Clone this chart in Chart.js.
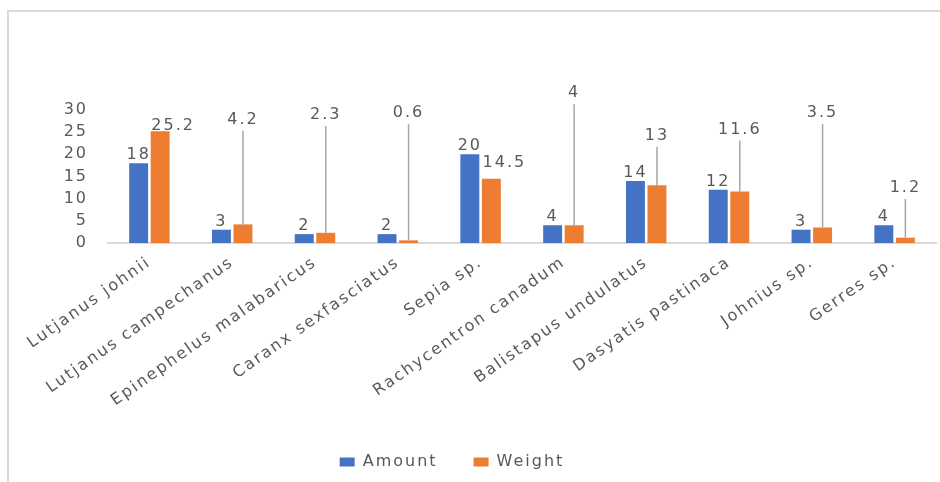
<!DOCTYPE html>
<html>
<head>
<meta charset="utf-8">
<script src="https://cdn.jsdelivr.net/npm/chart.js@4"></script>
<style>
  html, body { margin: 0; padding: 0; background: #fff; }
  #wrap { width: 940px; height: 482px; }
</style>
</head>
<body>
<div id="wrap"><canvas id="barChart"></canvas></div>
<script>
const species = [
  "Lutjanus johnii",
  "Lutjanus campechanus",
  "Epinephelus malabaricus",
  "Caranx sexfasciatus",
  "Sepia sp.",
  "Rachycentron canadum",
  "Balistapus undulatus",
  "Dasyatis pastinaca",
  "Johnius sp.",
  "Gerres sp.",
];
const amount = [18, 3, 2, 2, 20, 4, 14, 12, 3, 4];
const weight = [25.2, 4.2, 2.3, 0.6, 14.5, 4, 13, 11.6, 3.5, 1.2];
const yTicks = [0, 5, 10, 15, 20, 25, 30];

// where the weight labels were dragged to (in axis units), and which have a leader line
const weightLabelAt = [26.4, 27.8, 28.9, 29.3, 18.0, 33.8, 24.2, 25.6, 29.3, 12.4];
const weightLeader = [false, true, true, true, false, true, true, true, true, true];

const FONT = '"DejaVu Sans", Verdana, sans-serif';
const GREY = "#595959";

const spacing = {
  id: "spacing",
  beforeUpdate(chart) { chart.ctx.letterSpacing = "2px"; },
  beforeDraw(chart) { chart.ctx.letterSpacing = "2px"; },
  afterLayout(chart) {
    // legend sits a bit left of centre in the original
    chart.legend.left -= 16;
    chart.legend.right -= 16;
  },
};

const frame = {
  id: "frame",
  beforeDraw(chart) {
    const ctx = chart.ctx;
    ctx.save();
    ctx.strokeStyle = "#d9d9d9";
    ctx.lineWidth = 2;
    ctx.beginPath();
    ctx.moveTo(8, 482);
    ctx.lineTo(8, 11);
    ctx.lineTo(940, 11);
    ctx.stroke();
    ctx.restore();
  },
};

const labels = {
  id: "labels",
  afterDatasetsDraw(chart) {
    const ctx = chart.ctx;
    const y = chart.scales.y;
    ctx.save();
    ctx.letterSpacing = "2px";
    ctx.font = "16px " + FONT;
    ctx.fillStyle = GREY;
    ctx.textAlign = "center";
    ctx.textBaseline = "middle";
    chart.getDatasetMeta(0).data.forEach((bar, i) => {
      ctx.fillText(String(amount[i]), bar.x, bar.y - 8);
    });
    chart.getDatasetMeta(1).data.forEach((bar, i) => {
      const ly = y.getPixelForValue(weightLabelAt[i]);
      if (weightLeader[i]) {
        ctx.strokeStyle = "#a6a6a6";
        ctx.lineWidth = 1.5;
        ctx.beginPath();
        ctx.moveTo(bar.x, ly + 11);
        ctx.lineTo(bar.x, bar.y);
        ctx.stroke();
      }
      const dx = weightLeader[i] ? 0 : 13;
      ctx.fillText(String(weight[i]), bar.x + dx, ly);
    });
    ctx.restore();
  },
};

const ctx = document.getElementById("barChart");

const chart = new Chart(ctx, {
  type: "bar",
  data: {
    labels: species,
    datasets: [
      {
        label: "Amount",
        data: amount,
        backgroundColor: "#4472C4",
        barPercentage: 0.88,
        categoryPercentage: 0.52,
      },
      {
        label: "Weight",
        data: weight,
        backgroundColor: "#ED7D31",
        barPercentage: 0.88,
        categoryPercentage: 0.52,
      },
    ],
  },
  options: {
    responsive: true,
    maintainAspectRatio: false,
    animation: false,
    layout: { padding: { top: 110, right: 4, bottom: 2, left: 0 } },
    plugins: {
      tooltip: { enabled: false },
      legend: {
        position: "bottom",
        labels: {
          boxWidth: 15,
          boxHeight: 9,
          padding: 36,
          color: GREY,
          font: { family: FONT, size: 16 },
        },
      },
    },
    scales: {
      x: {
        grid: { display: false, drawTicks: false },
        border: { color: "#d9d9d9", width: 2 },
        ticks: {
          color: GREY,
          font: { family: FONT, size: 16 },
          minRotation: 35,
          maxRotation: 35,
          autoSkip: false,
          padding: 10,
        },
        afterFit(scale) { scale.height = 175; },
      },
      y: {
        min: 0,
        max: 30,
        grid: { display: false, drawTicks: false },
        border: { display: false },
        afterBuildTicks(scale) { scale.ticks = yTicks.map(v => ({ value: v })); },
        ticks: {
          color: GREY,
          font: { family: FONT, size: 16 },
          padding: 20,
          autoSkip: false,
        },
        afterFit(scale) { scale.width = 108; },
      },
    },
  },
  plugins: [spacing, frame, labels],
});
</script>
</body>
</html>
